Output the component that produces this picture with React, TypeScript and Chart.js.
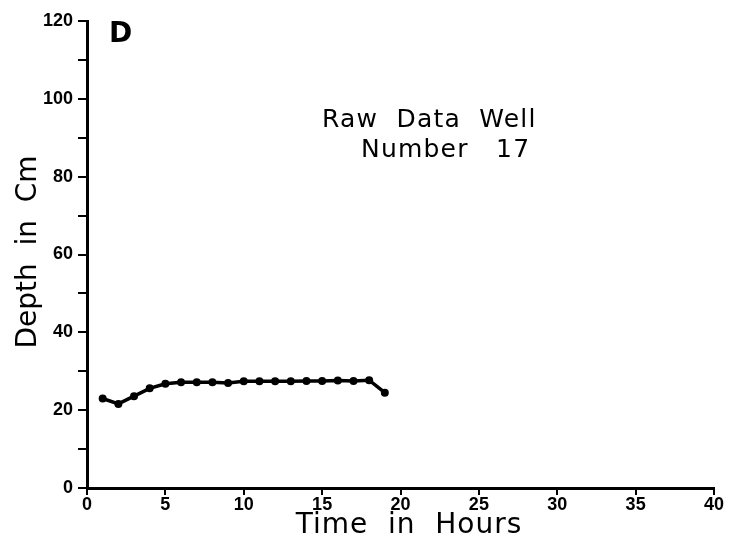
import React, { useEffect, useRef } from "react";
import { Chart, registerables } from "chart.js";

Chart.register(...registerables);

const hours = [1, 2, 3, 4, 5, 6, 7, 8, 9, 10, 11, 12, 13, 14, 15, 16, 17, 18, 19];
const depth = [23.0, 21.6, 23.6, 25.6, 26.8, 27.2, 27.2, 27.2, 27.0, 27.4, 27.4, 27.4, 27.4, 27.5, 27.5, 27.6, 27.5, 27.7, 24.5];
const panelLabel = "D";
const titleLines = ["Raw  Data  Well", "Number   17"];
const xTitle = "Time  in  Hours";
const yTitle = "Depth  in  Cm";

const annotations = {
  id: "annotations",
  afterDraw(chart: any) {
    const ctx = chart.ctx;
    ctx.save();
    ctx.fillStyle = "#000";
    ctx.textBaseline = "alphabetic";
    ctx.textAlign = "left";
    ctx.font = "bold 28px 'DejaVu Sans', sans-serif";
    ctx.fillText(panelLabel, 109, 42);
    ctx.font = "25px 'DejaVu Sans', sans-serif";
    (ctx as any).letterSpacing = "1.2px";
    ctx.fillText(titleLines[0], 322, 127);
    ctx.fillText(titleLines[1], 361, 157);
    ctx.font = "28px 'DejaVu Sans', sans-serif";
    (ctx as any).letterSpacing = "1px";
    ctx.textAlign = "center";
    ctx.fillText(xTitle, 409, 533);
    ctx.translate(36, 252);
    ctx.rotate(-Math.PI / 2);
    (ctx as any).letterSpacing = "0px";
    ctx.fillText(yTitle, 0, 0);
    ctx.restore();
  },
};

export default function App() {
  const ref = useRef<HTMLCanvasElement | null>(null);
  useEffect(() => {
    document.body.style.margin = "0";
    const chart = new Chart(ref.current!, {
      type: "line",
      data: {
        datasets: [
          {
            data: hours.map((h, i) => ({ x: h, y: depth[i] })),
            borderColor: "#000",
            backgroundColor: "#000",
            borderWidth: 3.5,
            pointRadius: 4,
            pointBackgroundColor: "#000",
            pointBorderWidth: 0,
            tension: 0,
          },
        ],
      },
      options: {
        animation: false,
        responsive: false,
        layout: { padding: { top: 21, right: 17, left: 0, bottom: 0 } },
        plugins: { legend: { display: false }, tooltip: { enabled: false } },
        scales: {
          x: {
            type: "linear",
            min: 0,
            max: 40,
            afterFit(scale: any) {
              scale.height = 51;
            },
            border: { display: true, color: "#000", width: 3 },
            grid: { drawOnChartArea: false, drawTicks: true, tickLength: 7, color: "#000", lineWidth: 2 },
            ticks: {
              stepSize: 5,
              color: "#000",
              padding: -1,
              maxRotation: 0,
              font: { family: "'Liberation Sans', Arial, sans-serif", weight: "bold", size: 18 },
            },
          },
          y: {
            min: 0,
            max: 120,
            afterFit(scale: any) {
              scale.width = 87;
            },
            border: { display: true, color: "#000", width: 3 },
            grid: { drawOnChartArea: false, drawTicks: true, tickLength: 9, color: "#000", lineWidth: 2 },
            ticks: {
              stepSize: 10,
              color: "#000",
              padding: 5,
              autoSkip: false,
              callback: (v: any) => (Number(v) % 20 === 0 ? String(v) : ""),
              font: { family: "'Liberation Sans', Arial, sans-serif", weight: "bold", size: 18 },
            },
          },
        },
      },
      plugins: [annotations],
    } as any);
    return () => chart.destroy();
  }, []);
  return (
    <div style={{ position: "absolute", left: 0, top: 0, width: 731, height: 539, background: "#fff" }}>
      <canvas ref={ref} width={731} height={539} style={{ width: 731, height: 539 }} />
    </div>
  );
}
